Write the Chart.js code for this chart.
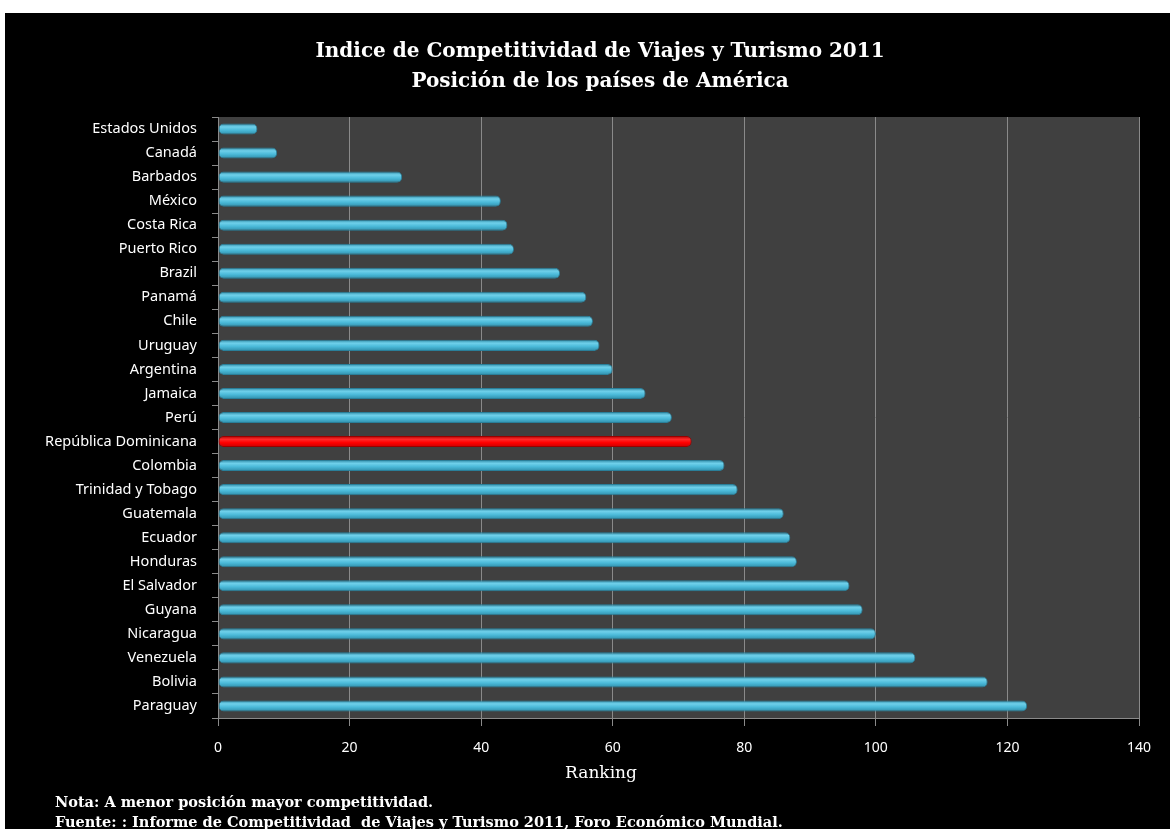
<!DOCTYPE html>
<html>
<head>
<meta charset="utf-8">
<script src="https://cdn.jsdelivr.net/npm/chart.js@4.4.0/dist/chart.umd.min.js"></script>
<style>
  html, body { margin: 0; padding: 0; background: #fff; overflow: hidden; }
  #frame { position: absolute; left: 5px; top: 13px; width: 1165px; height: 819px; background: #000; }
</style>
</head>
<body>
<div id="frame"><canvas id="chart" width="1165" height="819"></canvas></div>
<script>
// Data
const countries = [
    "Estados Unidos", "Canadá", "Barbados", "México", "Costa Rica", "Puerto Rico",
    "Brazil", "Panamá", "Chile", "Uruguay", "Argentina", "Jamaica", "Perú",
    "República Dominicana", "Colombia", "Trinidad y Tobago", "Guatemala", "Ecuador",
    "Honduras", "El Salvador", "Guyana", "Nicaragua", "Venezuela", "Bolivia", "Paraguay"
];
const ranking = [6, 9, 28, 43, 44, 45, 52, 56, 57, 58, 60, 65, 69, 72, 77, 79, 86, 87, 88, 96, 98, 100, 106, 117, 123];
const highlight = "República Dominicana";

const titleLines = ["Indice de Competitividad de Viajes y Turismo 2011", "Posición de los países de América"];
const axisTitle = "Ranking";
const noteLines = [
    "Nota: A menor posición mayor competitividad.",
    "Fuente: : Informe de Competitividad  de Viajes y Turismo 2011, Foro Económico Mundial."
];

const serif = "'DejaVu Serif', 'Liberation Serif', serif";
const sans = "'Noto Sans', 'Open Sans', sans-serif";

// cylinder-like shading across the bar thickness
function barFill(ctx) {
    const chart = ctx.chart;
    const isRed = countries[ctx.dataIndex] === highlight;
    const stops = isRed
        ? ["#b00000", "#ff2a2a", "#ff0000", "#c80000"]
        : ["#2f8aa6", "#6fd0ea", "#4bbad9", "#2f8eaa"];
    if (!chart.chartArea || !chart.scales.y) return stops[2];
    const y = chart.scales.y.getPixelForValue(ctx.dataIndex);
    const g = chart.ctx.createLinearGradient(0, y - 5.5, 0, y + 5.5);
    g.addColorStop(0, stops[0]);
    g.addColorStop(0.3, stops[1]);
    g.addColorStop(0.6, stops[2]);
    g.addColorStop(1, stops[3]);
    return g;
}

// dark plot wall behind the bars; title, axis title and notes around it
const wall = {
    id: "wall",
    beforeDraw(chart) {
        const { ctx, chartArea: a } = chart;
        ctx.save();
        ctx.fillStyle = "#404040";
        ctx.fillRect(a.left, a.top, a.right - a.left, a.bottom - a.top);
        ctx.restore();
    },
    afterDraw(chart) {
        const { ctx, chartArea: a } = chart;
        const cx = 595;
        ctx.save();
        ctx.fillStyle = "#fff";
        ctx.textBaseline = "middle";
        ctx.textAlign = "center";
        ctx.font = "bold 20px " + serif;
        titleLines.forEach((line, i) => ctx.fillText(line, cx, a.top - 65 + i * 30));
        ctx.font = "17px " + serif;
        ctx.fillText(axisTitle, cx + 1, a.bottom + 56);
        ctx.font = "bold 14.5px " + serif;
        ctx.textAlign = "left";
        noteLines.forEach((line, i) => ctx.fillText(line, 50, a.bottom + 85 + i * 20));
        ctx.restore();
    }
};

new Chart(document.getElementById("chart"), {
    type: "bar",
    data: {
        labels: countries,
        datasets: [{
            label: "Ranking",
            data: ranking,
            backgroundColor: barFill,
            borderColor: countries.map(c => c === highlight ? "#9a0000" : "#2a7f99"),
            borderWidth: 1,
            borderRadius: 5,
            borderSkipped: false,
            barPercentage: 0.46,
            categoryPercentage: 1
        }]
    },
    options: {
        indexAxis: "y",
        responsive: false,
        animation: false,
        layout: { padding: { left: 20, right: 31, top: 104, bottom: 50 } },
        plugins: {
            legend: { display: false },
            tooltip: { enabled: false },
            title: { display: false }
        },
        scales: {
            x: {
                min: 0,
                max: 140,
                ticks: { stepSize: 20, color: "#fff", padding: 14, font: { family: sans, size: 14 } },
                grid: { color: "#8a8a8a", tickLength: 8, tickColor: "#8a8a8a" },
                border: { color: "#8a8a8a" },
                afterFit(scale) { scale.height = 64; }
            },
            y: {
                ticks: { color: "#fff", padding: 15, font: { family: sans, size: 14.5 } },
                grid: { drawOnChartArea: false, color: "#8a8a8a", tickLength: 6 },
                border: { color: "#8a8a8a" },
                afterFit(scale) { scale.width = 193; }
            }
        }
    },
    plugins: [wall]
});
</script>
</body>
</html>
